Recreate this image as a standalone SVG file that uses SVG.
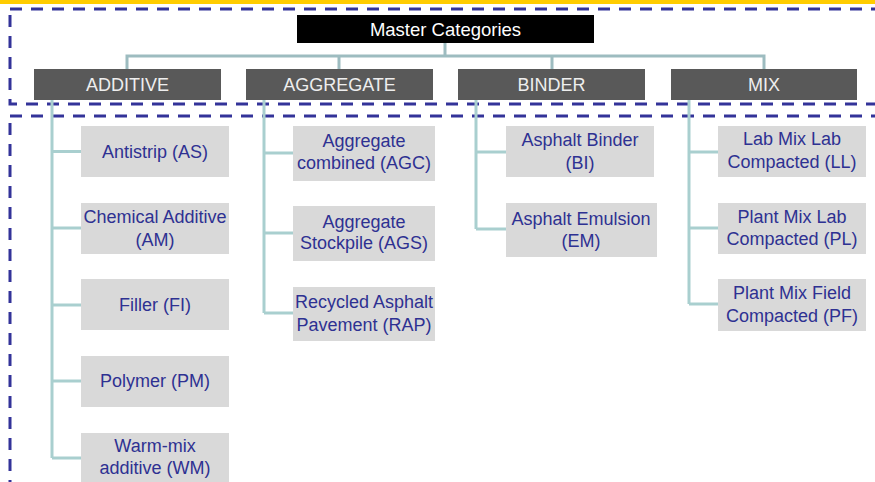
<svg xmlns="http://www.w3.org/2000/svg" width="875" height="482" viewBox="0 0 875 482">
<style>
.dash{fill:none;stroke:#333399;stroke-width:3;stroke-dasharray:12 9}
.cat rect{fill:#595959}
.cat text{fill:#EEEEEE;font-family:"Liberation Sans",Arial,sans-serif;font-size:18px;text-anchor:middle}
.item rect{fill:#D9D9D9}
.item text{fill:#2E3192;font-family:"Liberation Sans",Arial,sans-serif;font-size:18px;text-anchor:middle}
.conn path{fill:none;stroke-width:3}
.top{stroke:#9DBCC0}
.sub{stroke:#A9CFCF}
</style>
<rect x="0" y="0" width="875" height="482" fill="#FFFFFF"/>
<rect x="0" y="0" width="875" height="4" fill="#FFCC00"/>
<rect class="dash" x="10" y="9" width="880" height="95"/>
<rect class="dash" x="10" y="116" width="880" height="400"/>

<g id="connectors" class="conn">
  <path class="top" d="M445 43 V56 M127 69 V56 H764 V69 M339 56 V69 M552 56 V69"/>
  <path class="sub" d="M52 100 V458 M52 151.5 H81 M52 228 H81 M52 305 H81 M52 381 H81 M52 458 H81"/>
  <path class="sub" d="M264 100 V313 M264 153 H293 M264 233 H293 M264 313 H293"/>
  <path class="sub" d="M476 100 V229 M476 152 H506 M476 229 H506"/>
  <path class="sub" d="M689 100 V304 M689 152 H718 M689 228 H718 M689 304 H718"/>
</g>

<g id="master">
  <rect x="297" y="15" width="297" height="28" fill="#000000"/>
  <text x="445.5" y="35.5" fill="#FFFFFF" font-family="'Liberation Sans',Arial,sans-serif" font-size="18.5" text-anchor="middle">Master Categories</text>
</g>

<g id="additive" class="cat"><rect x="34" y="69" width="187" height="31"/><text x="127.5" y="91">ADDITIVE</text></g>
<g id="aggregate" class="cat"><rect x="246" y="69" width="187" height="31"/><text x="339.5" y="91">AGGREGATE</text></g>
<g id="binder" class="cat"><rect x="458" y="69" width="187" height="31"/><text x="551.5" y="91">BINDER</text></g>
<g id="mix" class="cat"><rect x="671" y="69" width="186" height="31"/><text x="764" y="91">MIX</text></g>

<g id="as" class="item"><rect x="81" y="126" width="148" height="51"/><text x="155" y="157.5">Antistrip (AS)</text></g>
<g id="am" class="item"><rect x="81" y="203" width="148" height="51"/><text x="155" y="223.3">Chemical Additive</text><text x="155" y="246">(AM)</text></g>
<g id="fi" class="item"><rect x="81" y="279" width="148" height="51"/><text x="155" y="310.5">Filler (FI)</text></g>
<g id="pm" class="item"><rect x="81" y="356" width="148" height="51"/><text x="155" y="387">Polymer (PM)</text></g>
<g id="wm" class="item"><rect x="81" y="433" width="148" height="55"/><text x="155" y="451.7">Warm-mix</text><text x="155" y="474.3">additive (WM)</text></g>

<g id="agc" class="item"><rect x="293" y="126" width="142" height="55"/><text x="364" y="147.3">Aggregate</text><text x="364" y="169.3">combined (AGC)</text></g>
<g id="ags" class="item"><rect x="293" y="206" width="142" height="55"/><text x="364" y="227.7">Aggregate</text><text x="364" y="249.3">Stockpile (AGS)</text></g>
<g id="rap" class="item"><rect x="293" y="287" width="142" height="54"/><text x="364" y="308.3">Recycled Asphalt</text><text x="364" y="330.7">Pavement (RAP)</text></g>

<g id="bi" class="item"><rect x="506" y="126" width="148" height="51"/><text x="580" y="146">Asphalt Binder</text><text x="580" y="169.3">(BI)</text></g>
<g id="em" class="item"><rect x="506" y="203" width="151" height="54"/><text x="581" y="225">Asphalt Emulsion</text><text x="581" y="247.3">(EM)</text></g>

<g id="ll" class="item"><rect x="718" y="126" width="148" height="51"/><text x="792" y="145">Lab Mix Lab</text><text x="792" y="168.3">Compacted (LL)</text></g>
<g id="pl" class="item"><rect x="718" y="203" width="148" height="51"/><text x="792" y="222.7">Plant Mix Lab</text><text x="792" y="245">Compacted (PL)</text></g>
<g id="pf" class="item"><rect x="718" y="279" width="148" height="52"/><text x="792" y="299.3">Plant Mix Field</text><text x="792" y="321.7">Compacted (PF)</text></g>
</svg>
